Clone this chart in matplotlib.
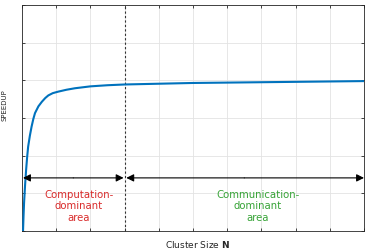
import matplotlib
matplotlib.use("Agg")
import matplotlib.pyplot as plt

# Data
cluster_size = [0.03, 0.045, 0.06, 0.09, 0.12, 0.15, 0.18, 0.23, 0.28, 0.33, 0.38, 0.48,
                0.58, 0.68, 0.77, 0.9, 1.06, 1.3, 1.55, 2.0, 2.5, 3, 4, 5, 6, 7, 8, 9, 10]
speedup = [0.0, 0.40, 0.74, 1.22, 1.62, 1.96, 2.24, 2.53, 2.77, 2.97, 3.13, 3.31,
           3.43, 3.53, 3.60, 3.66, 3.70, 3.75, 3.79, 3.84, 3.87, 3.89, 3.91, 3.93,
           3.94, 3.95, 3.96, 3.97, 3.98]
boundary_x = 3
arrow_y = 1.41
x_ticks = [0, 1, 2, 3, 4, 5, 6, 7, 8, 9, 10]
y_ticks = [0, 1, 2, 3, 4, 5, 6]
left_label = "Computation-\ndominant\narea"
right_label = "Communication-\ndominant\narea"

fig = plt.figure(figsize=(3.69, 2.50), dpi=100)
ax = fig.add_axes([22/369, 19/250, 342/369, 226/250])

ax.plot(cluster_size, speedup, color="#0072BD", lw=1.5, solid_capstyle="butt",
        solid_joinstyle="round", zorder=3)
ax.axvline(boundary_x, color="#333333", lw=0.8, ls=(0, (2, 2)), zorder=2)

ax.set_xlim(0, 10)
ax.set_ylim(0, 6)
ax.set_xticks(x_ticks)
ax.set_yticks(y_ticks)
ax.set_xticklabels([])
ax.set_yticklabels([])
ax.grid(True, color="#e3e3e3", lw=0.6)
ax.set_axisbelow(True)
ax.tick_params(direction="in", length=2.5, width=0.6, color="#262626",
               top=True, right=True)
for s in ax.spines.values():
    s.set_color("#262626")
    s.set_linewidth(0.6)

arrow_kw = dict(arrowstyle="-|>", color="black", lw=0.8, mutation_scale=11,
                shrinkA=0, shrinkB=0)
ax.annotate("", xy=(0.03, arrow_y), xytext=(1.5, arrow_y), arrowprops=arrow_kw,
            annotation_clip=False)
ax.annotate("", xy=(boundary_x - 0.03, arrow_y), xytext=(1.5, arrow_y), arrowprops=arrow_kw,
            annotation_clip=False)
ax.annotate("", xy=(boundary_x + 0.05, arrow_y), xytext=(6.5, arrow_y), arrowprops=arrow_kw,
            annotation_clip=False)
ax.annotate("", xy=(10.0, arrow_y), xytext=(6.5, arrow_y), arrowprops=arrow_kw,
            annotation_clip=False)

ax.text(1.67, 0.66, left_label, color="#d92b2b", fontsize=7.3, ha="center", va="center",
        linespacing=1.2)
ax.text(6.89, 0.66, right_label, color="#36a336", fontsize=7.3, ha="center", va="center",
        linespacing=1.2)

fig.text(197/369, 1 - 244/250, "Cluster Size $\\mathbf{N}$", fontsize=6.5,
         ha="center", va="center", color="#262626")
fig.text(5/369, 1 - 105/250, "SPEEDUP", fontsize=5, rotation=90,
         ha="center", va="center", color="#262626")

fig.savefig("out.png", dpi=100)
